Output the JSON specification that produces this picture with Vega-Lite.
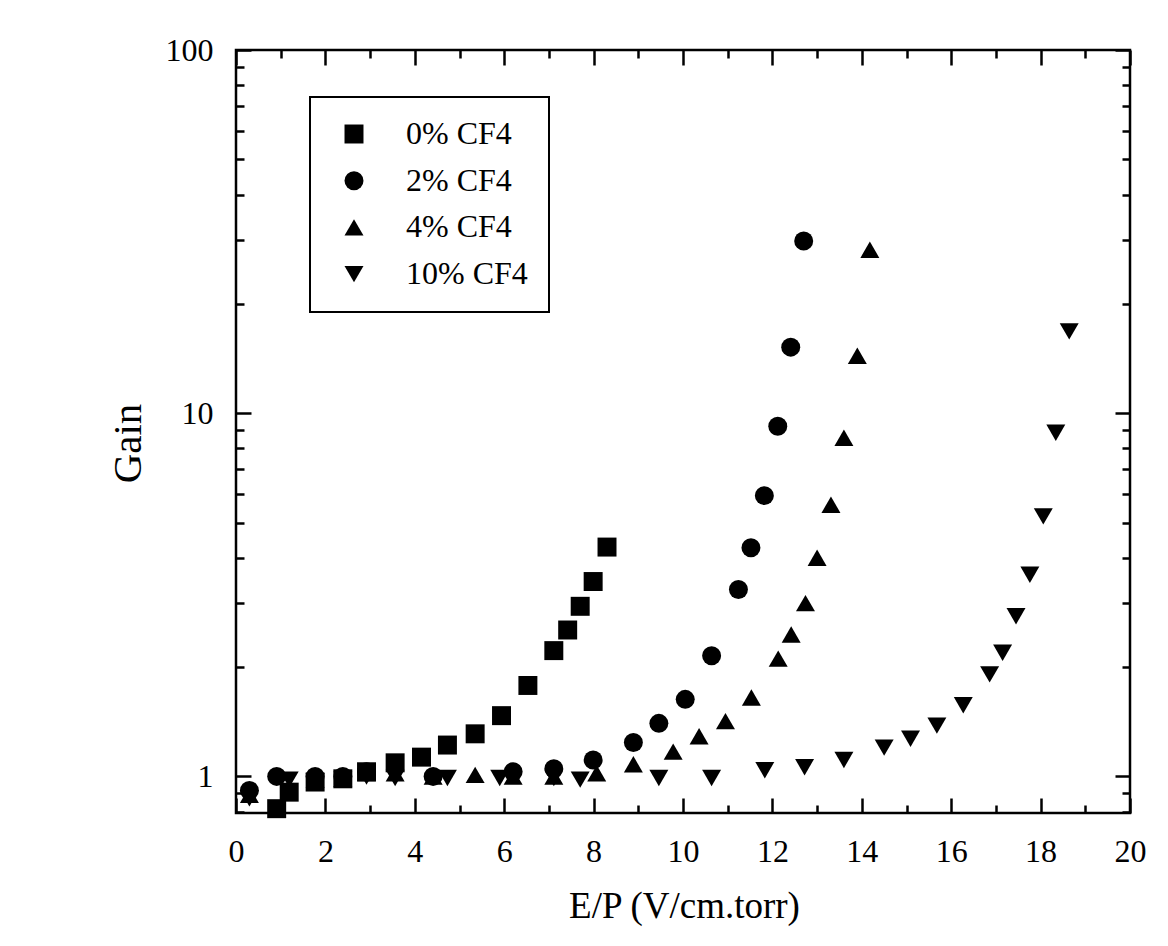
{
  "$schema": "https://vega.github.io/schema/vega-lite/v6.json",
  "width": 894,
  "height": 763,
  "autosize": {"type": "none"},
  "padding": {"left": 236, "top": 50, "right": 38, "bottom": 133},
  "background": "white",
  "config": {
    "font": "Liberation Serif",
    "view": {"stroke": "black", "strokeWidth": 2.5},
    "axis": {"domain": false, "grid": false, "tickColor": "black", "tickWidth": 2.5, "labelColor": "black", "labelFont": "Liberation Serif", "labelFontSize": 32, "labelFlush": false, "labelOverlap": false, "labelBound": false, "titleFont": "Liberation Serif", "titleColor": "black", "titleFontWeight": "normal"},
    "legend": {"strokeWidth": 2}
  },
  "data": {"values": [
    {"s": "0% CF4", "x": 0.91, "g": 0.815},
    {"s": "0% CF4", "x": 1.19, "g": 0.905},
    {"s": "0% CF4", "x": 1.77, "g": 0.965},
    {"s": "0% CF4", "x": 2.39, "g": 0.985},
    {"s": "0% CF4", "x": 2.92, "g": 1.03},
    {"s": "0% CF4", "x": 3.56, "g": 1.09},
    {"s": "0% CF4", "x": 4.15, "g": 1.13},
    {"s": "0% CF4", "x": 4.73, "g": 1.22},
    {"s": "0% CF4", "x": 5.35, "g": 1.31},
    {"s": "0% CF4", "x": 5.94, "g": 1.47},
    {"s": "0% CF4", "x": 6.53, "g": 1.78},
    {"s": "0% CF4", "x": 7.11, "g": 2.22},
    {"s": "0% CF4", "x": 7.42, "g": 2.53},
    {"s": "0% CF4", "x": 7.70, "g": 2.94},
    {"s": "0% CF4", "x": 7.99, "g": 3.44},
    {"s": "0% CF4", "x": 8.30, "g": 4.28},
    {"s": "2% CF4", "x": 0.30, "g": 0.915},
    {"s": "2% CF4", "x": 0.91, "g": 1.0},
    {"s": "2% CF4", "x": 1.77, "g": 1.0},
    {"s": "2% CF4", "x": 2.39, "g": 1.0},
    {"s": "2% CF4", "x": 2.92, "g": 1.03},
    {"s": "2% CF4", "x": 4.41, "g": 1.0},
    {"s": "2% CF4", "x": 6.20, "g": 1.03},
    {"s": "2% CF4", "x": 7.11, "g": 1.05},
    {"s": "2% CF4", "x": 7.99, "g": 1.11},
    {"s": "2% CF4", "x": 8.89, "g": 1.24},
    {"s": "2% CF4", "x": 9.46, "g": 1.40},
    {"s": "2% CF4", "x": 10.05, "g": 1.63},
    {"s": "2% CF4", "x": 10.64, "g": 2.15},
    {"s": "2% CF4", "x": 11.24, "g": 3.27},
    {"s": "2% CF4", "x": 11.52, "g": 4.26},
    {"s": "2% CF4", "x": 11.82, "g": 5.93},
    {"s": "2% CF4", "x": 12.12, "g": 9.21},
    {"s": "2% CF4", "x": 12.41, "g": 15.2},
    {"s": "2% CF4", "x": 12.70, "g": 29.8},
    {"s": "4% CF4", "x": 0.30, "g": 0.89},
    {"s": "4% CF4", "x": 1.77, "g": 0.98},
    {"s": "4% CF4", "x": 2.39, "g": 0.985},
    {"s": "4% CF4", "x": 2.92, "g": 1.02},
    {"s": "4% CF4", "x": 3.56, "g": 1.02},
    {"s": "4% CF4", "x": 4.41, "g": 1.0},
    {"s": "4% CF4", "x": 5.35, "g": 1.01},
    {"s": "4% CF4", "x": 6.20, "g": 1.0},
    {"s": "4% CF4", "x": 7.11, "g": 1.0},
    {"s": "4% CF4", "x": 8.07, "g": 1.02},
    {"s": "4% CF4", "x": 8.89, "g": 1.08},
    {"s": "4% CF4", "x": 9.78, "g": 1.17},
    {"s": "4% CF4", "x": 10.36, "g": 1.29},
    {"s": "4% CF4", "x": 10.95, "g": 1.42},
    {"s": "4% CF4", "x": 11.53, "g": 1.65},
    {"s": "4% CF4", "x": 12.13, "g": 2.11},
    {"s": "4% CF4", "x": 12.42, "g": 2.46},
    {"s": "4% CF4", "x": 12.74, "g": 3.0},
    {"s": "4% CF4", "x": 13.0, "g": 4.0},
    {"s": "4% CF4", "x": 13.31, "g": 5.6},
    {"s": "4% CF4", "x": 13.60, "g": 8.56},
    {"s": "4% CF4", "x": 13.90, "g": 14.4},
    {"s": "4% CF4", "x": 14.18, "g": 28.2},
    {"s": "10% CF4", "x": 0.30, "g": 0.87},
    {"s": "10% CF4", "x": 1.19, "g": 0.98},
    {"s": "10% CF4", "x": 1.77, "g": 0.97},
    {"s": "10% CF4", "x": 2.39, "g": 0.98},
    {"s": "10% CF4", "x": 2.92, "g": 1.0},
    {"s": "10% CF4", "x": 3.56, "g": 0.99},
    {"s": "10% CF4", "x": 4.73, "g": 0.99},
    {"s": "10% CF4", "x": 5.90, "g": 0.99},
    {"s": "10% CF4", "x": 7.11, "g": 0.99},
    {"s": "10% CF4", "x": 7.70, "g": 0.98},
    {"s": "10% CF4", "x": 9.46, "g": 0.99},
    {"s": "10% CF4", "x": 10.64, "g": 0.99},
    {"s": "10% CF4", "x": 11.83, "g": 1.04},
    {"s": "10% CF4", "x": 12.72, "g": 1.06},
    {"s": "10% CF4", "x": 13.60, "g": 1.11},
    {"s": "10% CF4", "x": 14.50, "g": 1.20},
    {"s": "10% CF4", "x": 15.09, "g": 1.27},
    {"s": "10% CF4", "x": 15.68, "g": 1.38},
    {"s": "10% CF4", "x": 16.27, "g": 1.57},
    {"s": "10% CF4", "x": 16.86, "g": 1.91},
    {"s": "10% CF4", "x": 17.15, "g": 2.19},
    {"s": "10% CF4", "x": 17.45, "g": 2.76},
    {"s": "10% CF4", "x": 17.76, "g": 3.59},
    {"s": "10% CF4", "x": 18.06, "g": 5.2},
    {"s": "10% CF4", "x": 18.34, "g": 8.83},
    {"s": "10% CF4", "x": 18.64, "g": 16.8}
  ]},
  "layer": [
    {
      "mark": {"type": "point", "filled": true, "color": "black", "opacity": 1, "size": 360, "strokeWidth": 0},
      "encoding": {
        "x": {"field": "x", "type": "quantitative", "scale": {"domain": [0, 20], "nice": false, "zero": false},
          "axis": {"orient": "bottom", "values": [0, 2, 4, 6, 8, 10, 12, 14, 16, 18, 20], "format": "d", "tickSize": -15, "labelPadding": 38, "title": "E/P (V/cm.torr)", "titleFontSize": 37, "titleX": 448, "titleY": 104, "titleBaseline": "alphabetic", "titleAlign": "center"}},
        "y": {"field": "g", "type": "quantitative", "scale": {"type": "log", "domain": [0.793, 100], "nice": false},
          "axis": {"orient": "left", "values": [1, 10, 100], "format": "d", "tickSize": -15, "labelPadding": 38, "title": "Gain", "titleFontSize": 41, "titleX": -96, "titleY": 393, "titleBaseline": "alphabetic", "titleAlign": "center", "titleAngle": -90}},
        "shape": {"field": "s", "type": "nominal",
          "scale": {"domain": ["0% CF4", "2% CF4", "4% CF4", "10% CF4"], "range": ["square", "circle", "triangle-up", "triangle-down"]},
          "legend": {"title": null, "orient": "none", "legendX": 74, "legendY": 47, "padding": 21, "strokeColor": "black", "fillColor": "white", "symbolSize": 360, "symbolFillColor": "black", "symbolStrokeWidth": 0, "symbolOffset": 7, "labelOffset": 36, "labelFontSize": 32, "labelFont": "Liberation Serif", "labelColor": "black", "rowPadding": 14.7, "labelLimit": 400}}
      }
    },
    {
      "mark": {"type": "point", "opacity": 0},
      "encoding": {
        "x": {"field": "x", "type": "quantitative", "axis": {"orient": "bottom", "values": [1, 3, 5, 7, 9, 11, 13, 15, 17, 19], "tickSize": -8, "labels": false, "title": null}},
        "y": {"field": "g", "type": "quantitative", "axis": {"orient": "left", "values": [0.8, 0.9, 2, 3, 4, 5, 6, 7, 8, 9, 20, 30, 40, 50, 60, 70, 80, 90], "tickSize": -8, "labels": false, "title": null}}
      }
    },
    {
      "mark": {"type": "point", "opacity": 0},
      "encoding": {
        "x": {"field": "x", "type": "quantitative", "axis": {"orient": "top", "values": [0, 2, 4, 6, 8, 10, 12, 14, 16, 18, 20], "tickSize": -15, "labels": false, "title": null}},
        "y": {"field": "g", "type": "quantitative", "axis": {"orient": "right", "values": [1, 10, 100], "tickSize": -15, "labels": false, "title": null}}
      }
    },
    {
      "mark": {"type": "point", "opacity": 0},
      "encoding": {
        "x": {"field": "x", "type": "quantitative", "axis": {"orient": "top", "values": [1, 3, 5, 7, 9, 11, 13, 15, 17, 19], "tickSize": -8, "labels": false, "title": null}},
        "y": {"field": "g", "type": "quantitative", "axis": {"orient": "right", "values": [0.8, 0.9, 2, 3, 4, 5, 6, 7, 8, 9, 20, 30, 40, 50, 60, 70, 80, 90], "tickSize": -8, "labels": false, "title": null}}
      }
    }
  ],
  "resolve": {"axis": {"x": "independent", "y": "independent"}}
}
